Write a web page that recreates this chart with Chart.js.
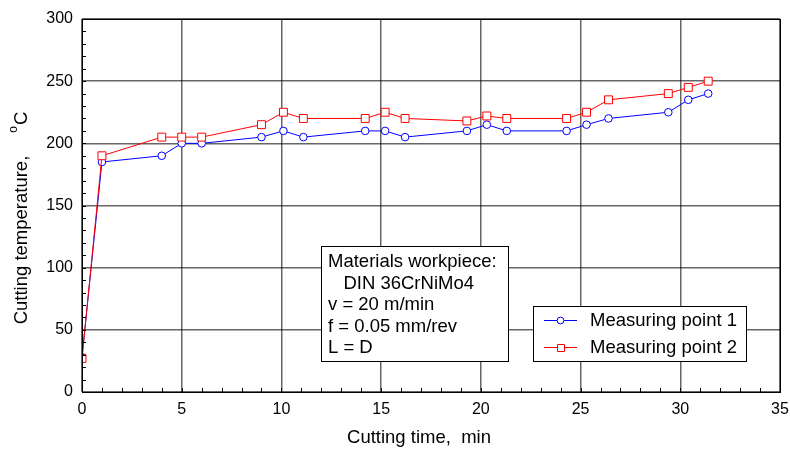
<!DOCTYPE html>
<html>
<head>
<meta charset="utf-8">
<script src="https://cdn.jsdelivr.net/npm/chart.js"></script>
<style>
html,body{margin:0;padding:0;background:#fff;}
#wrap{width:790px;height:453px;position:relative;}
</style>
</head>
<body>
<div id="wrap"><canvas id="c" width="790" height="453"></canvas></div>
<script>
// ---- data ----
const timeMin = [0, 1, 4, 5, 6, 9, 10.1, 11.1, 14.2, 15.2, 16.2, 19.3, 20.3, 21.3, 24.3, 25.3, 26.4, 29.4, 30.4, 31.4];
const point1Temp = [28, 185, 190, 200, 200, 205, 210, 205, 210, 210, 205, 210, 215, 210, 210, 215, 220, 225, 235, 240];
const point2Temp = [27, 190, 205, 205, 205, 215, 225, 220, 220, 225, 220, 218, 222, 220, 220, 225, 235, 240, 245, 250];
const seriesLabels = ['Measuring point 1', 'Measuring point 2'];
const xTitle = 'Cutting time,  min';
const yTitleParts = ['Cutting temperature,', 'o', 'C']; // text, superscript, unit
const infoLines = ['Materials workpiece:', '   DIN 36CrNiMo4', 'v = 20 m/min', 'f = 0.05 mm/rev', 'L = D'];

const FONT = '"Liberation Sans", Arial, sans-serif';
const TXT = '18.5px ' + FONT;
const toXY = (xs, ys) => xs.map((x, i) => ({x: x, y: ys[i]}));

const decorPlugin = {
  id: 'decor',
  afterDatasetsDraw(chart) {
    const ctx = chart.ctx;
    const a = chart.chartArea;
    const xs = chart.scales.x, ys = chart.scales.y;
    ctx.save();
    // border box
    ctx.strokeStyle = '#000';
    ctx.lineWidth = 1;
    ctx.setLineDash([]);
    ctx.strokeRect(Math.round(a.left) + 0.5, Math.round(a.top) + 0.5, Math.round(a.right - a.left), Math.round(a.bottom - a.top));
    // minor ticks (inward)
    ctx.beginPath();
    for (let v = ys.min; v <= ys.max; v += 10) {
      const py = Math.round(ys.getPixelForValue(v)) + 0.5;
      ctx.moveTo(a.left, py); ctx.lineTo(a.left + 4, py);
    }
    for (let v = xs.min; v <= xs.max; v += 1) {
      const px = Math.round(xs.getPixelForValue(v)) + 0.5;
      ctx.moveTo(px, a.bottom); ctx.lineTo(px, a.bottom - 4);
    }
    ctx.stroke();

    // info box
    ctx.font = TXT;
    ctx.textBaseline = 'middle';
    ctx.fillStyle = '#fff';
    ctx.fillRect(321, 246, 187, 115);
    ctx.strokeStyle = '#000';
    ctx.strokeRect(321.5, 246.5, 187, 115);
    ctx.fillStyle = '#000';
    infoLines.forEach((t, i) => ctx.fillText(t, 328, 262 + i * 21.5));

    // legend box
    ctx.fillStyle = '#fff';
    ctx.fillRect(533, 306, 213, 55);
    ctx.strokeRect(533.5, 306.5, 213, 55);
    chart.data.datasets.forEach((ds, i) => {
      const y = 320 + i * 27;
      ctx.strokeStyle = ds.borderColor;
      ctx.lineWidth = 1;
      ctx.beginPath(); ctx.moveTo(544, y + 0.5); ctx.lineTo(577, y + 0.5); ctx.stroke();
      ctx.fillStyle = '#fff';
      ctx.beginPath();
      if (ds.pointStyle === 'rect') { ctx.rect(557.5, y - 2.5, 7, 7); }
      else { ctx.arc(560.5, y + 0.5, 3.4, 0, Math.PI * 2); }
      ctx.fill(); ctx.stroke();
      ctx.fillStyle = '#000';
      ctx.font = TXT;
      ctx.fillText(ds.label, 590, y + 1);
    });

    // axis titles
    ctx.fillStyle = '#000';
    ctx.font = TXT;
    ctx.textAlign = 'center';
    ctx.fillText(xTitle, 419, 438);
    ctx.translate(22, 218);
    ctx.rotate(-Math.PI / 2);
    ctx.textAlign = 'left';
    const small = '12px ' + FONT;
    const gap = 23;
    ctx.font = TXT; const w0 = ctx.measureText(yTitleParts[0]).width;
    ctx.font = small; const w1 = ctx.measureText(yTitleParts[1]).width;
    ctx.font = TXT; const w2 = ctx.measureText(yTitleParts[2]).width;
    let xx = -(w0 + gap + w1 + w2 + 1) / 2;
    ctx.font = TXT; ctx.fillText(yTitleParts[0], xx, 0); xx += w0 + gap;
    ctx.font = small; ctx.fillText(yTitleParts[1], xx, -8); xx += w1 + 1;
    ctx.font = TXT; ctx.fillText(yTitleParts[2], xx, 0);
    ctx.restore();
  }
};

const gridStyle = {
  color: 'rgba(0,0,0,0.6)',
  lineWidth: 1.5,
  borderDash: [1, 1],
  drawTicks: false
};

new Chart(document.getElementById('c'), {
  type: 'line',
  data: {
    datasets: [
      {
        label: seriesLabels[0],
        data: toXY(timeMin, point1Temp),
        borderColor: '#0000ff',
        backgroundColor: '#ffffff',
        borderWidth: 1,
        pointStyle: 'circle',
        pointRadius: 3.8,
        pointBorderWidth: 1,
        order: 1
      },
      {
        label: seriesLabels[1],
        data: toXY(timeMin, point2Temp),
        borderColor: '#ff0000',
        backgroundColor: '#ffffff',
        borderWidth: 1,
        pointStyle: 'rect',
        pointRadius: 5.6,
        pointBorderWidth: 1,
        order: 0
      }
    ]
  },
  options: {
    responsive: false,
    animation: false,
    events: [],
    layout: { padding: { top: 19, right: 10, left: 0, bottom: 0 } },
    plugins: { legend: { display: false }, tooltip: { enabled: false } },
    scales: {
      x: {
        type: 'linear',
        min: 0, max: 35,
        afterFit(s) { s.height = 61; s.paddingLeft = 0; s.paddingRight = 0; },
        ticks: { stepSize: 5, padding: 8, color: '#000', font: { family: FONT, size: 16 } },
        grid: gridStyle,
        border: { display: false }
      },
      y: {
        min: 0, max: 300,
        afterFit(s) { s.width = 82; s.paddingTop = 0; s.paddingBottom = 0; },
        ticks: { stepSize: 50, padding: 9, color: '#000', font: { family: FONT, size: 16 } },
        grid: gridStyle,
        border: { display: false }
      }
    }
  },
  plugins: [decorPlugin]
});
</script>
</body>
</html>
